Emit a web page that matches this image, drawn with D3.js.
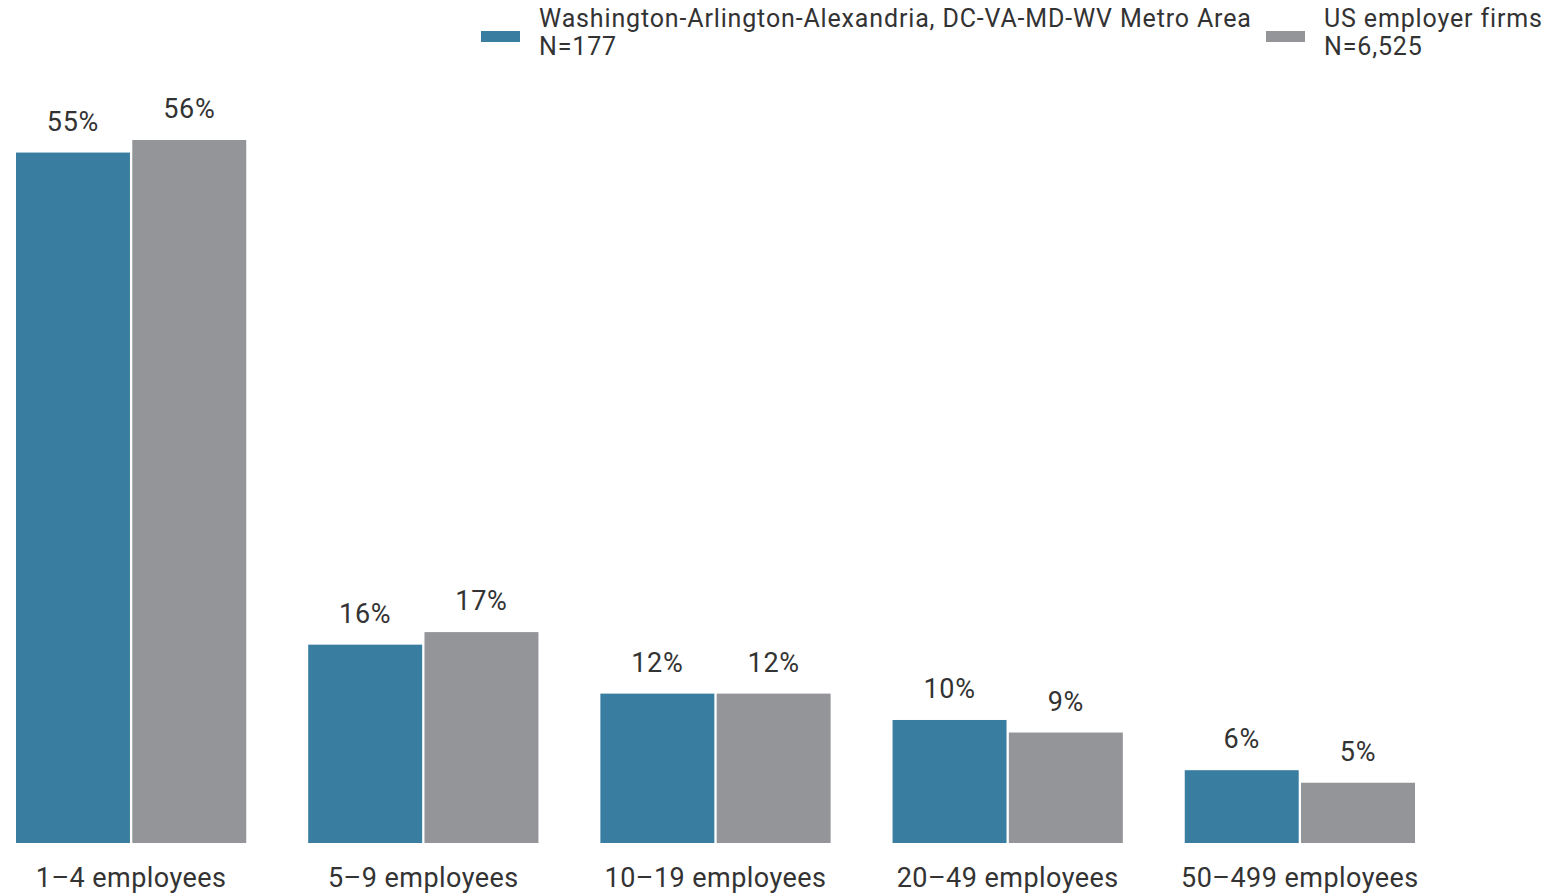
<!DOCTYPE html>
<html>
<head>
<meta charset="utf-8">
<script src="https://cdn.jsdelivr.net/npm/d3@7"></script>
<style>
  body { margin: 0; background: #fff; }
  text { font-family: Roboto, "Noto Sans", sans-serif; fill: #333; }
</style>
</head>
<body>
<svg id="chart" width="1555" height="896"></svg>
<script>
// data
const categories = ['1–4 employees', '5–9 employees', '10–19 employees', '20–49 employees', '50–499 employees'];
const seriesNames = ['Washington-Arlington-Alexandria, DC-VA-MD-WV Metro Area', 'US employer firms'];
const seriesN = ['N=177', 'N=6,525'];
const metroValues = [55.0, 15.8, 11.9, 9.8, 5.8];
const usValues = [56.0, 16.8, 11.9, 8.8, 4.8];
const colors = ['#397ea1', '#939598'];

const svg = d3.select('#chart');
const baseY = 843;

const x = d3.scaleBand().domain(categories).range([16, 1415]).paddingInner(0.212).paddingOuter(0);
const xSub = d3.scaleBand().domain([0, 1]).range([0, x.bandwidth()]).paddingInner(0.02);
const y = d3.scaleLinear().domain([0, 56]).range([baseY, 140]);

const rows = categories.map((c, i) => ({ cat: c, vals: [metroValues[i], usValues[i]] }));
const fmt = v => d3.format('.0f')(v) + '%';

const groups = svg.append('g')
    .selectAll('g')
    .data(rows)
    .enter()
    .append('g')
    .attr('transform', d => 'translate(' + x(d.cat) + ',0)');

const cells = groups.selectAll('g')
    .data(d => d.vals.map((v, k) => ({ k: k, v: v })))
    .enter()
    .append('g');

cells.append('rect')
    .attr('x', d => xSub(d.k))
    .attr('y', d => y(d.v))
    .attr('width', xSub.bandwidth())
    .attr('height', d => baseY - y(d.v))
    .attr('fill', d => colors[d.k]);

cells.append('text')
    .attr('x', d => xSub(d.k) + xSub.bandwidth() / 2)
    .attr('y', d => y(d.v) - 22)
    .attr('text-anchor', 'middle')
    .attr('font-size', 27)
    .attr('letter-spacing', 0.7)
    .text(d => fmt(d.v));

// category axis
const xAxis = svg.append('g')
    .attr('transform', 'translate(0,' + baseY + ')')
    .call(d3.axisBottom(x).tickSize(0).tickPadding(0));
xAxis.select('.domain').remove();
xAxis.selectAll('text')
    .attr('dy', 0)
    .attr('y', 44)
    .attr('font-size', 27)
    .attr('letter-spacing', 0.45)
    .style('font-family', 'Roboto, "Noto Sans", sans-serif')
    .attr('fill', '#333');

// legend
const legendX = [481, 1266];
const legend = svg.append('g')
    .selectAll('g')
    .data(seriesNames)
    .enter()
    .append('g')
    .attr('transform', (d, i) => 'translate(' + legendX[i] + ',0)');

legend.append('rect')
    .attr('x', 0)
    .attr('y', 31)
    .attr('width', 39)
    .attr('height', 11)
    .attr('fill', (d, i) => colors[i]);

legend.append('text')
    .attr('x', 58)
    .attr('y', 27)
    .attr('font-size', 25)
    .attr('letter-spacing', 0.85)
    .text(d => d);

legend.append('text')
    .attr('x', 58)
    .attr('y', 55)
    .attr('font-size', 25)
    .attr('letter-spacing', 0.85)
    .text((d, i) => seriesN[i]);
</script>
</body>
</html>
